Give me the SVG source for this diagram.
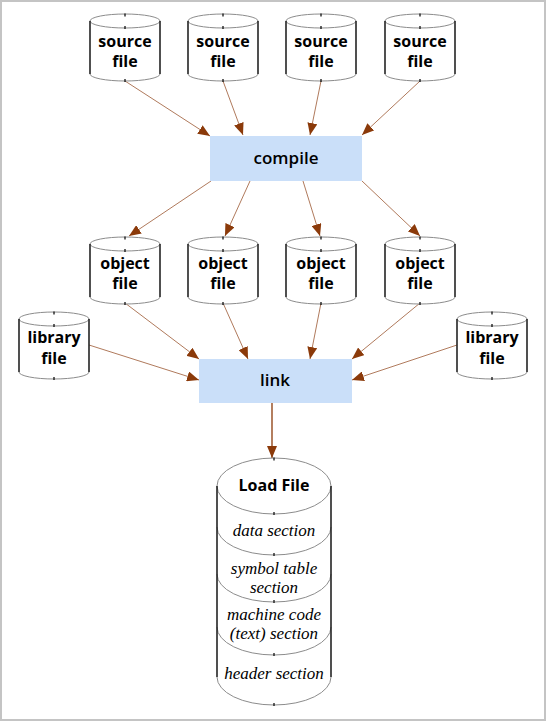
<svg xmlns="http://www.w3.org/2000/svg" width="546" height="721" viewBox="0 0 546 721">
<style>
.bg{fill:#fff;stroke:#c4c4c4;stroke-width:2}
.ell{fill:#fff;stroke:#8c8c8c;stroke-width:1}
.arc{fill:none;stroke:#8c8c8c;stroke-width:1}
.side{stroke:#000;stroke-width:1.2;fill:none}
.tick{fill:#000}
.box{fill:#cadff9}
.lbl{font-family:"Open Sans","Noto Sans",sans-serif;font-weight:bold;font-size:16px;fill:#000;text-anchor:middle}
.blbl{font-family:"Open Sans","Noto Sans",sans-serif;font-weight:600;font-size:17px;fill:#000;text-anchor:middle}
.sec{font-family:"Liberation Serif","DejaVu Serif",serif;font-style:italic;font-size:17px;fill:#000;text-anchor:middle}
.conn{stroke:#b07a5c;stroke-width:1;fill:none}
.connd{stroke:#8b3a0a;stroke-width:1.3;fill:none}
</style>
<defs>
<marker id="ah" viewBox="0 0 12 10" refX="12" refY="5" markerWidth="12" markerHeight="10" markerUnits="userSpaceOnUse" orient="auto">
<path d="M0,0 L12,5 L0,10 Z" fill="#8b3a0a"/>
</marker>
<g id="cyl">
<path class="ell" d="M-35,0 L-35,53 A35,7 0 0 0 35,53 L35,0 Z" />
<ellipse class="ell" cx="0" cy="0" rx="35" ry="7"/>
<line class="side" x1="-35" y1="0" x2="-35" y2="53"/>
<line class="side" x1="35" y1="0" x2="35" y2="53"/>
<rect class="tick" x="-0.6" y="-7.5" width="1.2" height="3"/>
<rect class="tick" x="-0.6" y="5" width="1.2" height="3"/>
<rect class="tick" x="-0.6" y="58" width="1.2" height="3"/>
</g>
</defs>
<rect class="bg" x="1" y="1" width="544" height="719"/>

<g id="connectors">
<line class="conn" x1="125" y1="81" x2="210" y2="136" marker-end="url(#ah)"/>
<line class="conn" x1="223" y1="81" x2="243" y2="135" marker-end="url(#ah)"/>
<line class="conn" x1="321" y1="81" x2="310" y2="135" marker-end="url(#ah)"/>
<line class="conn" x1="420" y1="81" x2="362" y2="135" marker-end="url(#ah)"/>
<line class="conn" x1="211" y1="181" x2="129" y2="236" marker-end="url(#ah)"/>
<line class="conn" x1="250" y1="181" x2="225" y2="236" marker-end="url(#ah)"/>
<line class="conn" x1="303" y1="181" x2="320" y2="236" marker-end="url(#ah)"/>
<line class="conn" x1="362" y1="181" x2="420" y2="236" marker-end="url(#ah)"/>
<line class="conn" x1="125" y1="303" x2="199" y2="359" marker-end="url(#ah)"/>
<line class="conn" x1="223" y1="303" x2="248" y2="359" marker-end="url(#ah)"/>
<line class="conn" x1="321" y1="303" x2="310" y2="359" marker-end="url(#ah)"/>
<line class="conn" x1="420" y1="303" x2="352" y2="359" marker-end="url(#ah)"/>
<line class="conn" x1="89" y1="345" x2="199" y2="380" marker-end="url(#ah)"/>
<line class="conn" x1="457" y1="345" x2="352" y2="380" marker-end="url(#ah)"/>
<line class="connd" x1="272" y1="403" x2="272" y2="458" marker-end="url(#ah)"/>
</g>

<g id="source1"><use href="#cyl" x="125" y="21"/><text class="lbl" x="125" y="47">source</text><text class="lbl" x="125" y="67">file</text></g>
<g id="source2"><use href="#cyl" x="223" y="21"/><text class="lbl" x="223" y="47">source</text><text class="lbl" x="223" y="67">file</text></g>
<g id="source3"><use href="#cyl" x="321" y="21"/><text class="lbl" x="321" y="47">source</text><text class="lbl" x="321" y="67">file</text></g>
<g id="source4"><use href="#cyl" x="420" y="21"/><text class="lbl" x="420" y="47">source</text><text class="lbl" x="420" y="67">file</text></g>

<g id="compile"><rect class="box" x="210" y="136" width="152" height="45"/><text class="blbl" x="286" y="164">compile</text></g>

<g id="object1"><use href="#cyl" x="125" y="244"/><text class="lbl" x="125" y="269">object</text><text class="lbl" x="125" y="289">file</text></g>
<g id="object2"><use href="#cyl" x="223" y="244"/><text class="lbl" x="223" y="269">object</text><text class="lbl" x="223" y="289">file</text></g>
<g id="object3"><use href="#cyl" x="321" y="244"/><text class="lbl" x="321" y="269">object</text><text class="lbl" x="321" y="289">file</text></g>
<g id="object4"><use href="#cyl" x="420" y="244"/><text class="lbl" x="420" y="269">object</text><text class="lbl" x="420" y="289">file</text></g>

<g id="library1"><use href="#cyl" x="54" y="319"/><text class="lbl" x="54" y="343">library</text><text class="lbl" x="54" y="364">file</text></g>
<g id="library2"><use href="#cyl" x="492" y="319"/><text class="lbl" x="492" y="343">library</text><text class="lbl" x="492" y="364">file</text></g>

<g id="link"><rect class="box" x="199" y="359" width="153" height="44"/><text class="blbl" x="275" y="386">link</text></g>

<g id="loadfile">
<path class="ell" d="M217,486 L217,677 A57,28 0 0 0 331,677 L331,486 Z"/>
<ellipse class="ell" cx="274" cy="486" rx="57" ry="28"/>
<path class="arc" d="M217,527 A57,28 0 0 0 331,527"/>
<path class="arc" d="M217,574 A57,28 0 0 0 331,574"/>
<path class="arc" d="M217,627 A57,28 0 0 0 331,627"/>
<line class="side" x1="217" y1="486" x2="217" y2="677"/>
<line class="side" x1="331" y1="486" x2="331" y2="677"/>
<rect class="tick" x="273.4" y="457.5" width="1.2" height="3"/>
<rect class="tick" x="273.4" y="512" width="1.2" height="3"/>
<rect class="tick" x="273.4" y="553" width="1.2" height="3"/>
<rect class="tick" x="273.4" y="600" width="1.2" height="3"/>
<rect class="tick" x="273.4" y="653" width="1.2" height="3"/>
<rect class="tick" x="273.4" y="703" width="1.2" height="3"/>
<text class="lbl" x="274" y="491">Load File</text>
<text class="sec" x="274" y="536">data section</text>
<text class="sec" x="274" y="574">symbol table</text>
<text class="sec" x="274" y="593">section</text>
<text class="sec" x="274" y="620">machine code</text>
<text class="sec" x="274" y="639">(text) section</text>
<text class="sec" x="274" y="679">header section</text>
</g>
</svg>
